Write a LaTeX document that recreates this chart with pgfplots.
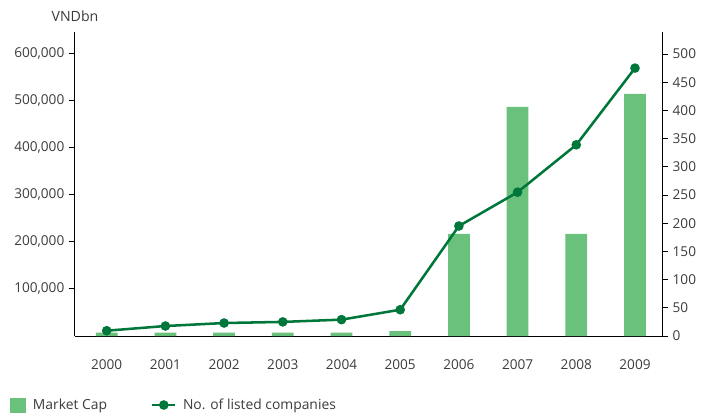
\documentclass[border=0pt]{standalone}
\usepackage{pgfplots}
\pgfplotsset{compat=1.18}
\usepackage{fontspec}
\setmainfont{Open Sans}
\definecolor{barc}{HTML}{6AC17B}
\definecolor{linec}{HTML}{00773A}
\definecolor{txt}{HTML}{3C3C3C}
\begin{document}
\begin{tikzpicture}
\useasboundingbox (-56.25pt,-59.25pt) rectangle (474pt,252pt);
\pgfplotsset{
  common/.style={
    scale only axis, width=440.25pt, height=228pt,
    xmin=-0.54, xmax=9.46,
    tick align=outside, major tick length=4.5pt,
    every tick/.style={black, line width=0.6pt},
    axis line style={black, line width=0.75pt},
    tick label style={font=\fontsize{10.2}{12}\selectfont, text=txt},
    /pgf/number format/assume math mode=true,
  },
}
\begin{axis}[common, clip=false,
  ymin=0, ymax=645000,
  axis x line*=bottom, axis y line*=left,
  xtick={0,...,9},
  xticklabels={2000,2001,2002,2003,2004,2005,2006,2007,2008,2009},
  x tick style={draw=none},
  xticklabel style={yshift=-9.5pt},
  ytick={100000,200000,300000,400000,500000,600000},
  scaled y ticks=false,
  yticklabel style={/pgf/number format/.cd, fixed, 1000 sep={,}},
]
\addplot[ybar, bar width=0.37, fill=barc, draw=none] coordinates {
(0,7400) (1,7400) (2,7400) (3,7400) (4,7400) (5,10600)
(6,216500) (7,486000) (8,216500) (9,513600)
};
\node[font=\fontsize{10.6}{12}\selectfont, text=txt] at (rel axis cs:0,1) [yshift=11.5pt] {VNDbn};
\end{axis}
\begin{axis}[common,
  ymin=0, ymax=539,
  axis y line*=right, axis x line=none,
  ytick={0,50,100,150,200,250,300,350,400,450,500},
  legend columns=2,
  legend style={draw=none, fill=none, inner sep=0pt, outer sep=0pt,
    at={(axis description cs:-0.1107,-0.227)}, anchor=west,
    font=\fontsize{10.4}{12}\selectfont, text=txt,
    /tikz/every even column/.append style={column sep=31pt}},
  legend cell align=left,
]
\addlegendimage{legend image code/.code={\fill[barc] (0pt,-5.25pt) rectangle (11.25pt,5.25pt); \path[draw=none,fill=none] (0pt,0pt) -- (15pt,0pt);}}
\addlegendentry{Market Cap}
\addplot[linec, line width=1.9pt, mark=*, mark size=2.6pt,
  mark options={fill=linec, draw=linec},
  legend image code/.code={\draw[linec, line width=1.9pt] (0pt,0pt) -- (17.25pt,0pt); \fill[linec] (8.6pt,0pt) circle (2.6pt); \path[draw=none,fill=none] (0pt,0pt) -- (21pt,0pt);}]
coordinates {
(0,9.4) (1,17.7) (2,23) (3,25) (4,29) (5,46.6)
(6,195) (7,255) (8,339) (9,475)
};
\addlegendentry{No. of listed companies}
\end{axis}
\end{tikzpicture}
\end{document}
